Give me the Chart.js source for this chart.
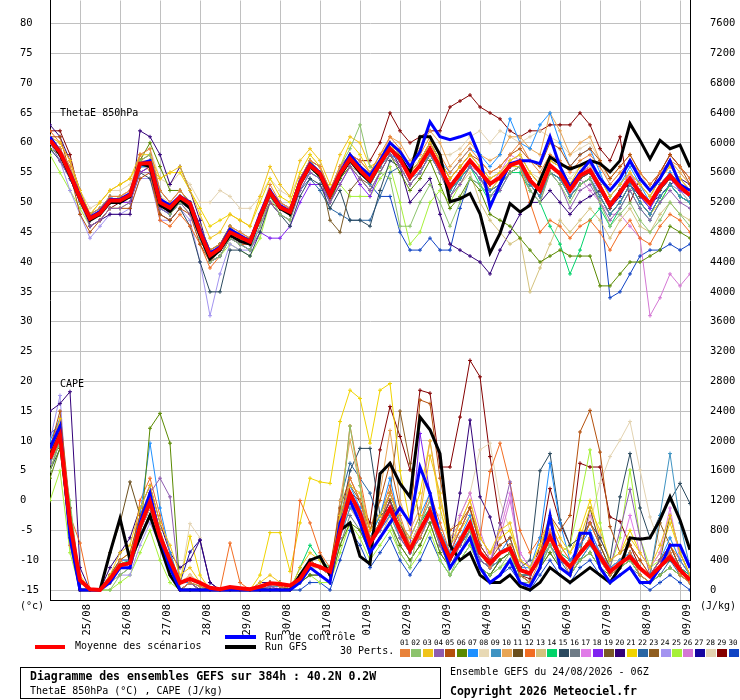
<!DOCTYPE html>
<html>
<head>
<meta charset="utf-8">
<script src="https://cdn.jsdelivr.net/npm/chart.js@4.4.1/dist/chart.umd.min.js"></script>
<style>
  body { margin: 0; background: #fff; overflow: hidden; }
  #wrap { position: relative; width: 740px; height: 700px; font-family: "DejaVu Sans Mono", monospace; color: #000; }
  #wrap canvas { position: absolute; left: 0; top: 0; }
  .t { position: absolute; white-space: pre; line-height: 1; font-size: 10px; }
  .b { font-weight: bold; font-size: 11.5px; }
  .sw { position: absolute; }
  #box { position: absolute; left: 20px; top: 667px; width: 421px; height: 32px; border: 1px solid #000; box-sizing: border-box; }
</style>
</head>
<body>
<div id="wrap">
  <canvas id="chart" width="740" height="700"></canvas>
  <div class="t" style="left:60px;top:108px">ThetaE 850hPa</div>
  <div class="t" style="left:60px;top:379px">CAPE</div>
  <div class="t" style="left:20px;top:601px">(°c)</div>
  <div class="t" style="left:700px;top:601px">(J/kg)</div>

  <div class="sw" style="left:35px;top:645px;width:30px;height:4px;background:#ff0000"></div>
  <div class="t" style="left:75px;top:641px">Moyenne des scénarios</div>
  <div class="sw" style="left:225px;top:635px;width:31px;height:4px;background:#0000ff"></div>
  <div class="t" style="left:265px;top:632px">Run de contrôle</div>
  <div class="sw" style="left:225px;top:645px;width:31px;height:4px;background:#000"></div>
  <div class="t" style="left:265px;top:642px">Run GFS</div>
  <div class="t" style="left:340px;top:646px">30 Perts.</div>
  <div id="perts"></div>

  <div id="box"></div>
  <div class="t b" style="left:30px;top:671px">Diagramme des ensembles GEFS sur 384h : 40.2N 0.2W</div>
  <div class="t" style="left:30px;top:686px">ThetaE 850hPa (°C) , CAPE (J/kg)</div>
  <div class="t" style="left:450px;top:667px">Ensemble GEFS du 24/08/2026 - 06Z</div>
  <div class="t b" style="left:450px;top:686px">Copyright 2026 Meteociel.fr</div>
</div>
<script>
// forecast hours (run 24/08/2026 06Z), one point every 6h
const hours = [0,6,12,18,24,30,36,42,48,54,60,66,72,78,84,90,96,102,108,114,120,126,132,138,144,150,156,162,168,174,180,186,192,198,204,210,216,222,228,234,240,246,252,258,264,270,276,282,288,294,300,306,312,318,324,330,336,342,348,354,360,366,372,378,384];
const dayTicks = [18,42,66,90,114,138,162,186,210,234,258,282,306,330,354,378];
const dayLabels = ['25/08','26/08','27/08','28/08','29/08','30/08','31/08','01/09','02/09','03/09','04/09','05/09','06/09','07/09','08/09','09/09'];
const thetaTicks = [-15,-10,-5,0,5,10,15,20,25,30,35,40,45,50,55,60,65,70,75,80];
const capeTicks = [0,400,800,1200,1600,2000,2400,2800,3200,3600,4000,4400,4800,5200,5600,6000,6400,6800,7200,7600];

const memberNames = ['01','02','03','04','05','06','07','08','09','10','11','12','13','14','15','16','17','18','19','20','21','22','23','24','25','26','27','28','29','30'];
const memberColors = ['#e8823a','#8cc36c','#f0c419','#8e5cb0','#b4500c','#5a8a00','#1e90ff','#e8d9b5','#3f93c2','#e8a656','#6b4f1d','#f26d22','#d4c27e','#00d46a','#2b4a5f','#6e7b86','#e07ce8','#8022f0','#7a5a26','#33007a','#f0d400','#2a66a3','#8f5d1f','#a394f0','#a6f03a','#d477d4','#1505a0','#e3d3b1','#850000','#1043c4'];

// ThetaE 850hPa (°C)
const thetaMean = [60.4,58.4,54.8,50.7,47.3, 48.2,50.3,50.3,51.2,56.5, 56.6,50.0,49.1,50.9,49.8, 45.0,41.1,42.3,45.0,44.2, 43.4,47.6,51.7,49.2,48.4, 53.2,56.2,54.8,51.2,54.8, 57.3,55.4,53.7,56.5,59.0, 57.3,54.2,56.2,59.0,55.9, 52.6,54.8,57.0,55.1,53.1, 54.2,56.2,56.8,53.7,52.0, 56.2,54.8,52.0,54.5,55.4, 52.6,49.5,51.7,54.0,51.5, 49.8,52.6,54.5,52.6,51.2];
const thetaCtrl = [61,58.5,55,51,47.5, 48.5,50.5,50.5,51.5,56.5, 57,50.5,49.5,51,50, 45.5,41.5,42.5,45.5,44.5, 43.5,48,52,49.5,48.5, 53.5,56.5,55,51.5,55, 58,56,54.5,57,60, 58.5,56,58.5,63.5,61, 60.5,61,61.6,57.6,49.2, 53,56.5,57,57,56.5, 61,56,52.5,55,57, 54,52,54,57,54, 52,54,57,53,52];
const thetaGfs = [60.5,58,54.5,50.5,47, 48,50,50,51,56.5, 56,49.5,48.5,50.5,49, 44.5,40.5,42,44.5,43.5, 43,47.5,51.5,49,48, 53,56,54.5,51,54.5, 57,55,53.5,56.5,59, 57.5,55,61,61,58, 50.1,50.6,51.5,48.1,41.5, 44.8,49.8,48.4,49.5,53.7, 57.6,56.5,55.6,56.2,57.0, 56.5,55.1,57,63.2,60.4, 57.3,60.4,59.0,59.6,55.9];
const thetaPerts = [
  [61,59,56,51,48, 49,51,51,52,58, 59,52,50,52,50, 46,42,43,46,45, 44,48,53,50,49, 54,57,56,52,56, 58,57,55,58,61, 59,56,58,61,58, 55,57,59,57,55, 56,58,60,57,55, 58,57,55,57,58, 56,53,55,57,55, 53,55,57,56,54], // 01
  [60,58,55,50,47, 48,50,51,51,57, 58,51,48,50,49, 44,40,41,44,43, 42,46,51,48,47, 53,57,55,51,56, 59,63,56,55,54, 46,46,50,53,50, 46,50,54,53,51, 53,55,56,52,50, 55,53,50,53,54, 50,46,48,50,47, 45,47,50,48,46], // 02
  [61,60,57,52,48, 50,52,53,54,58, 58,54,55,56,52, 48,44,45,48,47, 46,51,56,53,51, 57,59,57,53,58, 61,60,56,57,60, 58,55,57,60,57, 54,56,58,56,54, 55,57,58,55,53, 57,56,53,56,57, 54,51,53,55,53, 51,54,56,54,52], // 03
  [60,57,54,50,46, 47,49,49,50,55, 55,49,48,50,48, 44,40,41,44,43, 42,46,50,48,47, 52,55,54,50,53, 56,54,52,55,58, 56,53,55,58,55, 51,53,56,54,51, 52,55,56,52,50, 55,53,49,52,53, 50,47,49,52,49, 47,50,52,50,49], // 04
  [61,61,55,48,45, 47,49,49,49,54, 55,48,47,49,48, 43,40,42,45,44, 43,47,50,49,48, 53,56,55,52,55, 58,56,54,57,60, 58,55,57,60,57, 54,56,58,57,55, 56,58,59,57,56, 60,59,56,58,59, 57,54,56,58,55, 53,55,58,56,53], // 05
  [59,58,55,51,48, 48,50,50,51,57, 60,56,52,52,50, 46,42,43,46,44, 44,48,52,49,48, 53,56,54,50,54, 56,54,52,55,58, 55,52,54,57,53, 49,51,54,52,48, 47,46,44,42,40, 41,42,41,41,41, 36,36,38,40,40, 41,42,46,45,44], // 06
  [60,58,55,51,48, 49,51,50,51,56, 56,49,48,50,49, 44,40,41,44,43, 42,47,51,49,48, 53,56,55,51,55, 57,56,54,57,60, 58,55,57,60,57, 55,57,59,58,56, 58,64,60,59,63, 65,60,56,58,59, 55,51,53,56,53, 50,53,55,53,51], // 07
  [61,59,56,51,47, 48,50,51,52,57, 57,51,50,52,50, 46,42,43,46,45, 44,48,52,50,49, 54,57,55,52,55, 58,56,55,57,60, 58,56,57,60,57, 54,56,58,56,54, 55,57,58,55,54, 57,56,54,56,56, 54,51,53,55,53, 51,53,55,54,52], // 08
  [60,58,54,50,47, 48,50,50,51,56, 56,50,49,51,50, 45,41,42,45,44, 43,47,51,49,48, 53,55,54,51,54, 57,55,53,56,58, 57,54,55,58,55, 52,54,56,54,52, 53,55,56,53,51, 55,54,51,53,54, 51,48,50,53,50, 48,51,53,51,50], // 09
  [61,59,55,51,47, 48,50,51,52,57, 57,50,49,51,49, 45,41,42,45,44, 43,48,52,50,49, 54,57,55,52,56, 58,57,55,57,61, 60,57,59,62,60, 56,58,60,58,57, 58,61,61,59,58, 65,62,58,60,61, 57,54,56,58,55, 53,55,57,55,53], // 10
  [61,59,55,50,47, 48,50,50,51,57, 58,52,50,52,50, 45,41,42,45,44, 43,47,52,49,48, 53,56,55,51,55, 57,55,54,56,59, 57,54,56,59,56, 52,55,57,55,53, 54,56,57,54,52, 56,55,52,54,55, 52,49,52,54,51, 50,52,54,53,51], // 11
  [62,60,57,52,48, 49,51,51,52,58, 55,47,46,48,46, 43,39,41,44,43, 43,47,52,49,48, 54,57,55,51,55, 58,56,53,56,59, 57,54,56,59,56, 52,55,57,55,52, 53,55,56,50,45, 47,46,44,46,47, 45,42,45,47,44, 43,46,48,47,45], // 12
  [60,58,55,50,47, 48,50,50,51,56, 56,50,49,50,49, 45,41,42,45,44, 44,48,51,49,48, 53,56,54,51,54, 56,55,53,56,58, 56,53,55,58,55, 51,53,55,50,47, 45,43,44,35,39, 43,47,45,47,49, 47,44,47,49,46, 45,48,50,48,47], // 13
  [60,58,55,51,48, 49,51,51,51,56, 56,50,49,51,50, 45,41,42,45,44, 43,48,52,49,48, 53,56,54,51,55, 57,55,53,56,59, 57,54,56,58,55, 52,54,56,53,50, 52,55,55,52,50, 46,43,38,42,47, 49,46,49,52,49, 47,50,53,51,50], // 14
  [59,57,54,50,47, 48,50,50,51,55, 54,48,47,49,46, 40,35,35,42,42, 41,45,50,48,46, 51,54,53,49,52, 47,47,46,52,57, 56,53,55,58,55, 52,54,56,54,52, 53,55,56,53,51, 55,54,51,53,54, 51,48,50,53,50, 48,51,53,51,50], // 15
  [60,58,54,50,47, 48,50,50,51,56, 56,50,49,50,49, 45,41,42,45,44, 43,47,51,49,48, 53,56,54,51,54, 57,55,53,56,59, 57,54,56,59,56, 53,55,57,55,53, 54,56,57,54,52, 56,55,52,54,55, 53,50,52,54,52, 50,53,55,53,51], // 16
  [60,58,55,51,47, 48,50,50,51,56, 57,50,49,51,50, 45,41,42,45,44, 43,47,51,49,48, 53,56,55,51,55, 57,55,53,56,59, 57,54,56,58,56, 52,54,56,55,53, 55,58,57,54,52, 56,55,52,55,56, 53,50,52,55,52, 50,53,55,53,52], // 17
  [60,58,54,50,47, 48,50,50,50,55, 56,50,48,50,49, 44,40,41,44,43, 42,45,44,44,46, 50,53,53,50,53, 56,53,51,55,58, 57,54,56,59,56, 53,55,57,55,53, 54,56,57,54,52, 56,55,52,54,55, 52,49,52,54,51, 49,52,54,52,51], // 18
  [61,59,55,51,47, 48,50,50,51,57, 57,51,49,51,50, 45,41,42,45,44, 43,48,52,49,48, 54,57,55,47,45, 52,54,53,56,59, 57,54,56,59,56, 53,55,57,55,53, 54,56,57,54,52, 57,56,53,55,56, 53,50,52,55,52, 50,53,55,53,52], // 19
  [63,61,57,52,46, 47,48,48,48,62, 61,58,53,56,52, 47,41,43,45,44, 44,48,52,50,49, 54,57,55,52,55, 57,56,54,57,59, 56,50,52,54,48, 43,42,41,40,38, 42,45,48,50,50, 52,50,48,50,51, 52,50,52,53,51, 50,51,53,54,53], // 20
  [60,58,56,52,48, 50,52,53,54,57, 56,54,55,55,52, 49,46,47,48,47, 46,50,54,51,50, 55,58,56,52,56, 60,58,55,58,60, 57,54,56,58,55, 52,54,57,55,52, 54,56,56,53,51, 55,54,51,53,54, 51,48,50,53,50, 48,50,53,51,50], // 21
  [60,58,54,50,47, 48,50,50,51,56, 56,50,49,50,49, 45,41,42,45,44, 43,47,51,49,48, 52,54,52,49,48, 47,47,47,51,55, 56,53,55,58,55, 51,54,56,54,52, 53,55,56,53,51, 55,54,51,53,54, 51,48,50,53,50, 48,51,53,51,50], // 22
  [61,59,56,51,47, 48,50,50,51,57, 57,51,49,51,50, 46,42,43,46,45, 44,48,52,50,49, 54,57,55,52,55, 58,56,55,57,60, 58,55,57,60,57, 54,56,58,56,54, 55,57,58,55,53, 57,56,53,55,56, 54,51,53,55,53, 51,54,56,54,52], // 23
  [59,57,52,48,44, 46,48,48,49,54, 54,47,47,49,47, 40,31,38,43,42, 42,46,50,48,47, 52,55,54,50,54, 56,55,53,56,58, 56,53,55,58,55, 52,54,56,54,52, 54,56,56,53,51, 55,54,51,54,55, 51,48,50,53,50, 48,51,53,52,50], // 24
  [58,55,52,49,46, 47,49,49,50,55, 55,49,48,50,48, 44,40,41,43,42, 41,44,50,48,47, 52,55,54,50,53, 51,51,51,54,56, 50,43,45,50,52, 50,53,56,54,52, 53,55,56,53,51, 55,54,51,53,54, 51,48,50,53,50, 48,51,53,52,50], // 25
  [60,58,55,51,48, 48,50,50,51,56, 56,50,49,51,50, 45,41,42,45,44, 43,47,51,49,48, 53,56,55,51,55, 57,55,53,56,59, 57,54,56,59,56, 53,55,57,55,53, 54,56,57,54,52, 56,55,52,54,52, 50,48,48,46,44, 31,34,38,36,38], // 26
  [61,59,55,50,47, 48,50,50,51,56, 57,50,48,50,49, 45,41,42,45,44, 43,47,51,49,48, 53,56,55,51,55, 57,56,54,57,59, 57,54,56,59,56, 53,55,57,55,53, 54,56,57,54,52, 56,55,52,54,55, 52,49,51,54,51, 49,52,54,53,51], // 27
  [61,60,57,52,49, 50,52,52,53,58, 59,54,53,55,53, 50,50,52,51,49, 49,51,54,52,51, 55,58,56,52,56, 58,56,54,57,60, 58,55,57,60,58, 58,59,61,62,60, 62,61,60,61,62, 61,60,58,59,60, 57,53,55,57,55, 52,54,57,55,53], // 28
  [62,62,58,51,46, 47,49,50,50,55, 56,50,48,51,49, 44,40,41,44,43, 43,47,52,50,49, 54,57,56,52,56, 58,57,57,60,65, 62,60,61,62,62, 66,67,68,66,65, 64,62,61,62,62, 63,63,63,65,63, 59,57,61,50,54, 52,55,58,56,54], // 29
  [60,58,55,50,47, 48,50,50,51,56, 56,49,48,50,49, 45,41,42,45,44, 43,47,51,49,48, 53,56,55,51,54, 57,55,53,51,51, 45,42,42,44,42, 42,49,54,53,51, 53,55,56,53,51, 55,54,51,53,54, 50,34,35,38,41, 42,42,43,42,43]  // 30
];

// CAPE (J/kg)
const capeMean = [1765,2078,900,130,10, 0,150,330,360,850, 1180,715,400,95,150, 95,30,10,40,25, 10,45,89,80,60, 150,350,310,246,782, 1296,1028,626,849,1095, 804,536,804,1050,715, 425,648,894,500,357, 496,559,268,224,447, 715,447,313,492,648, 447,246,357,447,291, 179,313,447,268,134];
const capeCtrl = [1900,2200,700,0,0, 0,100,300,300,900, 1300,700,300,0,0, 0,0,0,0,0, 0,0,0,0,0, 100,300,200,100,900, 1200,900,500,700,900, 1100,900,1650,1300,700, 300,500,700,300,100, 200,400,100,50,300, 1000,300,200,760,760, 300,100,200,300,100, 100,300,600,600,300];
const capeGfs = [1800,2100,800,0,0, 0,500,960,400,700, 1000,600,200,0,0, 0,0,0,0,0, 0,0,0,0,0, 200,400,450,200,800, 900,450,350,1560,1700, 1430,1250,2320,2150,1830, 600,400,500,200,100, 100,200,50,0,100, 300,200,100,200,300, 200,100,300,700,680, 700,940,1250,940,540];
const capePerts = [
  [1900,2200,600,0,0, 0,100,400,300,900, 1300,800,300,0,100, 50,0,0,0,0, 0,0,100,50,0, 200,400,300,200,900, 1500,1200,700,900,1300, 1000,600,700,1100,800, 400,700,900,500,300, 500,600,200,100,400, 800,500,200,500,700, 400,200,300,500,200, 100,300,500,200,100], // 01
  [1600,2000,1200,100,0, 0,0,200,300,700, 1000,600,200,0,0, 0,0,0,0,0, 0,0,0,0,0, 100,300,200,100,900, 2200,1400,500,700,900, 500,300,900,1200,700, 200,500,800,300,200, 300,500,100,100,300, 600,300,200,400,500, 300,100,300,400,200, 100,200,300,200,100], // 02
  [1800,2300,1000,200,0, 0,200,500,600,1100, 1400,900,600,200,300, 100,0,0,0,0, 0,100,200,100,0, 300,500,400,200,1000, 1400,1300,800,1000,1300, 900,700,1000,1800,1300, 600,900,1200,700,500, 800,900,400,300,600, 1000,700,500,700,1100, 800,400,500,700,500, 300,600,1000,500,200], // 03
  [1700,2100,800,0,0, 0,100,300,400,800, 1300,1500,1250,0,100, 0,0,0,0,0, 0,0,50,0,0, 100,300,200,100,700, 1200,1000,600,800,1100, 700,500,700,1000,600, 300,600,900,400,300, 900,1450,400,200,400, 700,400,300,500,700, 500,300,800,1350,700, 200,400,500,300,100], // 04
  [1900,2400,1100,100,0, 0,200,400,500,1000, 1300,800,400,0,100, 0,0,0,0,0, 0,0,100,50,0, 200,400,300,300,1100, 1500,1200,800,1200,1700, 1100,900,2550,2500,1500, 800,900,1100,600,400, 600,700,300,200,500, 1000,800,1000,2120,2410, 1850,850,500,600,400, 200,400,600,300,100], // 05
  [1500,1900,700,0,0, 0,100,300,300,700, 2170,2370,1970,0,0, 0,0,0,0,0, 0,0,0,0,0, 100,200,200,100,600, 900,800,500,700,900, 600,400,600,900,500, 300,500,700,300,200, 400,500,200,100,300, 500,300,200,400,500, 300,200,300,400,200, 100,200,300,200,100], // 06
  [2000,2300,900,0,0, 0,200,400,400,1000, 1970,1100,500,100,100, 0,0,0,0,0, 0,0,100,100,0, 200,400,300,200,900, 1400,1100,700,1000,1500, 900,700,1000,1300,800, 500,700,1000,500,300, 500,700,300,300,700, 1700,900,400,600,800, 500,300,400,500,300, 200,400,700,400,200], // 07
  [1800,2200,1000,100,0, 0,100,300,300,800, 1100,700,300,100,200, 100,0,0,0,0, 0,0,100,100,0, 100,300,300,200,800, 1200,1000,600,800,1100, 800,600,900,1200,800, 500,700,900,500,300, 500,600,300,200,500, 700,500,300,500,700, 500,300,400,500,300, 200,300,500,300,100], // 08
  [1700,2100,800,0,0, 0,100,300,300,900, 1200,700,300,0,100, 0,0,0,0,0, 0,0,50,50,0, 100,300,300,200,700, 1100,1000,600,800,1000, 700,500,800,1100,700, 400,600,800,400,300, 400,500,200,200,400, 600,400,300,400,600, 400,200,300,400,300, 200,1000,1830,900,300], // 09
  [1800,2200,900,100,0, 0,200,400,400,900, 1200,700,400,100,100, 0,0,0,0,0, 0,0,100,100,0, 200,400,300,200,1200, 2010,1400,800,1300,2140, 1200,800,1100,2000,1200, 700,900,1200,700,500, 600,700,300,200,500, 800,500,300,500,700, 500,300,400,500,300, 200,300,500,300,100], // 10
  [1600,2000,800,0,0, 0,500,900,1450,1000, 1100,700,300,0,0, 0,0,0,0,0, 0,0,100,100,0, 200,300,200,100,800, 1200,1000,700,900,1200, 900,600,800,1100,700, 400,600,800,400,300, 400,500,200,200,400, 700,500,300,500,1100, 600,300,300,500,300, 200,300,400,300,100], // 11
  [1900,2300,1000,630,0, 0,100,300,300,1200, 1500,1000,500,100,200, 100,0,0,630,100, 0,0,100,100,0, 1200,900,500,300,1000, 2200,1500,800,1000,1400, 900,600,900,1300,900, 500,800,1100,700,1590, 1970,1430,800,500,700, 900,600,400,600,900, 600,300,400,600,400, 200,400,600,400,200], // 12
  [1700,2000,700,0,0, 0,100,200,300,700, 1000,600,300,0,100, 0,0,0,0,0, 0,0,50,50,0, 100,300,200,100,700, 1100,900,500,700,1000, 700,500,700,1000,600, 300,600,800,400,300, 400,500,200,200,400, 600,400,300,500,700, 400,200,300,400,300, 200,300,500,300,100], // 13
  [1800,2100,900,0,0, 0,150,350,400,900, 1200,800,300,0,100, 50,0,0,0,0, 0,0,100,100,0, 300,600,400,300,900, 1200,1000,700,1000,1300, 900,600,900,1100,800, 400,600,800,400,300, 500,600,200,200,400, 700,500,400,500,700, 500,300,400,500,300, 200,300,500,300,200], // 14
  [1600,1900,800,0,0, 0,100,300,300,800, 1100,700,300,0,0, 0,0,0,0,0, 0,0,0,0,0, 100,300,200,100,900, 1600,1900,1900,1000,1100, 800,500,700,1000,600, 400,600,900,500,300, 500,600,300,400,1600, 1830,940,600,700,900, 700,400,1250,1830,1100, 700,1000,1200,1430,1160], // 15
  [1700,2000,800,0,0, 0,100,300,400,900, 1200,700,300,0,0, 0,0,0,0,0, 0,0,0,0,0, 100,200,200,100,600, 1000,800,500,700,900, 600,400,600,900,500, 300,500,700,300,200, 400,500,200,100,300, 500,300,200,400,500, 300,100,200,300,200, 100,200,300,200,100], // 16
  [1900,2300,1000,100,0, 0,200,400,400,1000, 1300,800,400,100,100, 0,0,0,0,0, 0,0,100,0,0, 200,400,300,200,900, 1300,1100,700,900,1200, 900,600,800,1100,700, 400,700,900,500,400, 800,1300,500,300,500, 800,500,400,600,1000, 700,400,500,1000,500, 300,500,1100,400,200], // 17
  [1800,2200,900,0,0, 0,100,300,300,800, 1100,700,300,0,100, 0,0,0,0,0, 0,0,0,0,0, 100,300,200,100,800, 1200,1000,600,800,1000, 800,600,2100,1300,700, 400,600,800,500,300, 500,600,200,200,400, 700,400,300,500,700, 500,300,300,500,300, 200,300,500,300,100], // 18
  [1700,2100,900,100,0, 0,100,300,300,900, 1200,700,300,0,100, 0,0,0,0,0, 0,0,100,100,0, 200,400,300,200,800, 1200,1000,600,800,1100, 800,600,800,1100,700, 400,600,800,400,300, 500,600,200,200,400, 700,400,300,500,700, 500,300,300,500,300, 200,400,1000,500,200], // 19
  [2400,2500,2660,300,0, 0,300,500,700,1100, 1400,900,500,300,400, 670,100,0,0,0, 0,100,100,100,0, 200,400,300,200,900, 1300,1000,700,900,1200, 800,600,800,1100,800, 500,1300,2280,1250,980, 500,600,200,200,400, 700,400,300,500,700, 500,300,300,500,300, 200,300,500,300,100], // 20
  [1800,2200,1000,100,0, 0,200,400,500,1000, 1300,800,400,100,720, 200,0,0,0,0, 0,200,770,770,250, 900,1500,1450,1430,2260, 2680,2570,1970,2680,2770, 1600,900,1300,2000,1100, 600,800,1000,700,500, 700,800,400,300,600, 900,600,500,800,1200, 700,400,500,800,500, 300,500,900,500,200], // 21
  [1700,2000,800,0,0, 0,100,300,300,800, 1100,700,300,0,0, 0,0,0,0,0, 0,0,50,50,0, 100,300,200,100,1200, 1700,1500,1300,900,1100, 800,600,800,1000,600, 300,500,700,300,200, 400,500,200,100,300, 600,400,200,400,600, 400,200,300,400,200, 100,200,400,200,100], // 22
  [1800,2200,900,100,0, 0,100,300,300,900, 1200,800,300,0,100, 0,0,0,0,0, 0,0,100,50,0, 200,400,300,200,1000, 1400,1200,700,900,1300, 2400,1700,900,1100,700, 400,700,900,500,300, 500,600,200,200,400, 700,500,300,600,900, 600,300,400,500,300, 200,900,600,300,100], // 23
  [2000,2610,700,0,0, 0,100,200,200,600, 900,600,200,0,0, 0,0,0,0,0, 0,0,0,0,0, 100,200,200,100,700, 1100,900,600,800,1000, 700,500,700,1000,600, 300,500,800,400,300, 400,500,200,200,400, 600,400,300,500,700, 400,200,300,500,300, 200,300,500,300,100], // 24
  [1200,1600,500,0,0, 0,0,100,200,500, 800,400,100,0,0, 0,0,0,0,0, 0,0,0,0,0, 100,200,100,100,500, 900,700,400,600,800, 500,300,500,800,400, 200,400,600,300,200, 300,400,100,100,300, 700,500,600,1200,1880, 900,300,700,1610,700, 300,400,600,300,100], // 25
  [1700,2100,800,0,0, 0,100,300,300,800, 1100,700,300,0,0, 0,0,0,0,0, 0,0,50,0,0, 100,300,200,100,800, 1200,1000,700,900,1200, 800,600,800,1100,700, 400,1000,1300,800,400, 700,1200,500,300,500, 800,500,300,600,800, 500,300,400,500,300, 200,400,600,300,100], // 26
  [2100,2200,1100,100,0, 0,200,400,400,900, 1200,700,300,100,510, 670,100,0,0,0, 0,0,100,100,0, 200,400,300,200,900, 1300,1100,700,900,1200, 900,600,900,1200,800, 500,800,1100,600,400, 500,600,300,200,500, 700,500,300,500,700, 500,300,400,500,300, 200,400,600,300,200], // 27
  [1800,2100,900,100,0, 0,100,300,300,800, 1100,700,300,100,890, 700,100,0,0,0, 0,0,100,100,0, 200,400,300,200,800, 1200,1000,700,900,1200, 800,600,800,1100,1000, 800,1000,1300,1880,1970, 1200,800,500,300,500, 900,600,400,600,900, 1430,1790,2010,2260,1610, 980,600,700,400,200], // 28
  [1800,2100,800,0,0, 0,100,300,300,800, 1100,700,300,0,100, 0,0,0,0,0, 0,0,100,100,0, 200,400,300,200,1000, 1300,1200,900,1880,2460, 2060,1610,2680,2640,1650, 1650,2320,3080,2860,1790, 900,500,200,150,600, 1360,900,600,1700,1650, 1650,980,920,600,300, 200,300,500,300,100], // 29
  [1700,2000,800,0,0, 0,100,200,300,700, 1000,600,200,0,0, 0,0,0,0,0, 0,0,0,0,0, 0,100,100,0,400, 800,600,300,500,700, 400,200,400,700,400, 200,400,600,300,100, 200,300,100,0,200, 400,200,100,300,400, 200,100,200,300,100, 0,100,200,100,0]  // 30
];

// member colour legend below the chart
const pertBox = document.getElementById('perts');
memberNames.forEach((name, i) => {
  const x = 400 + i * 11.33;
  const lbl = document.createElement('div');
  lbl.className = 't';
  lbl.style.cssText = `left:${x}px;top:639px;font-size:7.5px;`;
  lbl.textContent = name;
  pertBox.appendChild(lbl);
  const sw = document.createElement('div');
  sw.className = 'sw';
  sw.style.cssText = `left:${x}px;top:649px;width:10px;height:8px;background:${memberColors[i]};`;
  pertBox.appendChild(sw);
});

function series(values, axis, color, width, order, pts) {
  return {
    data: values.map((v, i) => ({ x: hours[i], y: v })),
    yAxisID: axis,
    borderColor: color,
    backgroundColor: color,
    borderWidth: width,
    pointRadius: pts ? 2 : 0,
    pointStyle: 'cross',
    pointBorderWidth: 1,
    tension: 0,
    fill: false,
    order: order
  };
}

const datasets = [
  series(thetaMean, 'yT', '#ff0000', 4, 0, false),
  series(capeMean, 'yC', '#ff0000', 4, 0, false),
  series(thetaCtrl, 'yT', '#0000ff', 3, 1, false),
  series(capeCtrl, 'yC', '#0000ff', 3, 1, false),
  series(thetaGfs, 'yT', '#000000', 3, 2, false),
  series(capeGfs, 'yC', '#000000', 3, 2, false)
];
thetaPerts.forEach((p, i) => datasets.push(series(p, 'yT', memberColors[i], 1, 3, true)));
capePerts.forEach((p, i) => datasets.push(series(p, 'yC', memberColors[i], 1, 3, true)));

const xFont = { family: 'DejaVu Sans Mono', size: 10.5 };
// tiny line height so the y tick labels add no top padding to the plot area
const yFont = { family: 'DejaVu Sans Mono', size: 10.5, lineHeight: 0.1 };

new Chart(document.getElementById('chart'), {
  type: 'line',
  data: { datasets },
  options: {
    responsive: false,
    animation: false,
    devicePixelRatio: 1,
    layout: { autoPadding: false, padding: { left: 20, right: 0, top: 0, bottom: 0 } },
    plugins: { legend: { display: false }, tooltip: { enabled: false } },
    scales: {
      x: {
        type: 'linear', min: 0, max: 384,
        afterBuildTicks: s => { s.ticks = dayTicks.map(v => ({ value: v })); },
        afterFit: s => { s.height = 100; },
        ticks: {
          autoSkip: false, minRotation: 90, maxRotation: 90, padding: 4, labelOffset: 7.5,
          color: '#000', font: xFont,
          callback: (v, i) => dayLabels[i]
        },
        grid: { color: '#c0c0c0', drawTicks: false },
        border: { color: '#000', width: 1 }
      },
      yT: {
        position: 'left', min: -16.675, max: 83.85,
        afterBuildTicks: s => { s.ticks = thetaTicks.map(v => ({ value: v })); },
        afterFit: s => { s.width = 30; },
        ticks: { crossAlign: 'far', color: '#000', font: yFont, padding: 0 },
        grid: { color: '#c0c0c0', drawTicks: false },
        border: { color: '#000', width: 1 }
      },
      yC: {
        position: 'right', min: -134.04, max: 7908.3,
        afterBuildTicks: s => { s.ticks = capeTicks.map(v => ({ value: v })); },
        afterFit: s => { s.width = 50; },
        ticks: { color: '#000', font: yFont, padding: 0, callback: v => String(v) },
        grid: { drawOnChartArea: false, drawTicks: true, tickLength: 20, tickColor: 'rgba(0,0,0,0)' },
        border: { color: '#000', width: 1 }
      }
    }
  }
});
</script>
</body>
</html>
